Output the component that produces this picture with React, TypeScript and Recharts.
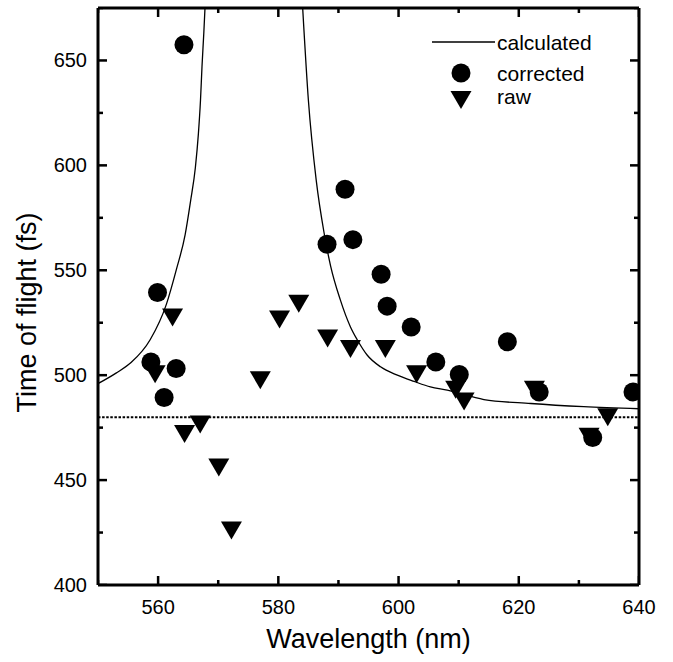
import React from "react";
import {
  ComposedChart,
  XAxis,
  YAxis,
  Line,
  Scatter,
  ReferenceLine,
  Legend,
} from "recharts";

// calculated curve (two branches around the resonance)
const calcLeftNm = [550, 553, 555.5, 558.7, 561.4, 563.1, 564.5, 565.4, 566.2, 566.7, 567.05, 567.3, 567.6, 567.8];
const calcLeftFs = [496, 501, 506, 517, 534, 551, 567, 583, 599, 615, 631, 647, 663, 675];
const calcRightNm = [584.05, 585, 586.3, 587.6, 588.7, 590.3, 592, 593.1, 594.8, 597, 599.8, 602.6, 605.3, 608.1, 614.2, 622, 630.8, 640];
const calcRightFs = [675, 631, 593, 568, 552, 536, 523, 517, 509.5, 504, 500, 497, 494.4, 492.9, 488.4, 486.5, 485, 484];

// corrected (circles)
const corrNm = [564.3, 559.9, 558.8, 563, 561, 591.1, 588.1, 592.4, 597.1, 598.1, 602.1, 606.2, 610.1, 618.1, 623.4, 632.3, 639];
const corrFs = [657.5, 539.4, 506.3, 503.2, 489.4, 588.6, 562.4, 564.6, 548.1, 532.9, 523, 506.3, 500.3, 515.9, 492, 470.3, 492];

// raw (down triangles)
const rawNm = [562.4, 559.5, 564.4, 567, 570.1, 572.2, 577, 580.2, 583.4, 588.2, 592, 597.8, 603, 609.5, 610.9, 622.6, 631.7, 634.8];
const rawFs = [527.5, 500.5, 472, 476.5, 456, 426, 497.6, 526.5, 534, 517.5, 512.5, 512.5, 500.5, 493, 487.5, 493, 470.6, 480];

const baseline = 480;
const xDomain = [550, 640];
const yDomain = [400, 675];
const xTicks = [550, 560, 570, 580, 590, 600, 610, 620, 630, 640];
const yTicks = [400, 425, 450, 475, 500, 525, 550, 575, 600, 625, 650, 675];

const pairs = (xs: number[], ys: number[]) => xs.map((x, i) => ({ x, y: ys[i] }));
const calcLeft = pairs(calcLeftNm, calcLeftFs);
const calcRight = pairs(calcRightNm, calcRightFs);
const corrected = pairs(corrNm, corrFs);
const raw = pairs(rawNm, rawFs);

// tick mark anchors on the four edges of the frame
const bottomMarks = xTicks.map((v) => ({ x: v, y: yDomain[0], major: v % 20 === 0 }));
const topMarks = xTicks.map((v) => ({ x: v, y: yDomain[1], major: v % 20 === 0 }));
const leftMarks = yTicks.map((v) => ({ x: xDomain[0], y: v, major: v % 50 === 0 }));
const rightMarks = yTicks.map((v) => ({ x: xDomain[1], y: v, major: v % 50 === 0 }));

const FONT = '"Liberation Sans", Arial, sans-serif';
const INK = "#000";
const MAJOR = 9;
const MINOR = 5;

const Dot = (p: any) => <circle cx={p.cx} cy={p.cy} r={9.5} fill={INK} />;
const DownTri = (p: any) => (
  <polygon
    points={`${p.cx - 10.5},${p.cy - 9} ${p.cx + 10.5},${p.cy - 9} ${p.cx},${p.cy + 9}`}
    fill={INK}
  />
);

const isMajor = (p: any) => (p.payload ? p.payload.major : p.major);
const markShape = (dx: number, dy: number) => (p: any) => {
  const len = isMajor(p) ? MAJOR : MINOR;
  return (
    <rect
      x={dx === 0 ? p.cx - 1.25 : dx > 0 ? p.cx : p.cx - len}
      y={dy === 0 ? p.cy - 1.25 : dy > 0 ? p.cy : p.cy - len}
      width={dx === 0 ? 2.5 : len}
      height={dy === 0 ? 2.5 : len}
      fill={INK}
    />
  );
};

const BottomTick = (p: any) => {
  const v = p.payload.value;
  if (v % 20 !== 0) return <g />;
  return (
    <text x={p.x} y={p.y + 28.5} textAnchor="middle" fontSize={20} fontFamily={FONT} fill={INK}>
      {v}
    </text>
  );
};

const LeftTick = (p: any) => {
  const v = p.payload.value;
  if (v % 50 !== 0) return <g />;
  return (
    <text x={p.x - 11} y={p.y + 7} textAnchor="end" fontSize={20} fontFamily={FONT} fill={INK}>
      {v}
    </text>
  );
};

const LegendBox = () => (
  <svg width={200} height={90} style={{ display: "block" }}>
    <line x1={7} x2={70} y1={17} y2={17} stroke={INK} strokeWidth={1.3} />
    <text x={72} y={25} fontSize={21} fontFamily={FONT}>calculated</text>
    <circle cx={36} cy={48} r={9.5} fill={INK} />
    <text x={72} y={56} fontSize={21} fontFamily={FONT}>corrected</text>
    <polygon points="25.5,66 46.5,66 36,84" fill={INK} />
    <text x={72} y={79} fontSize={21} fontFamily={FONT}>raw</text>
  </svg>
);

const axisLine = { stroke: INK, strokeWidth: 3 };

export default function App() {
  return (
    <div style={{ position: "absolute", left: 0, top: 0, width: 673, height: 662, background: "#fff" }}>
      <ComposedChart width={673} height={662} margin={{ top: 7, right: 33, bottom: 0, left: 38 }}>
        <XAxis
          xAxisId="b"
          dataKey="x"
          type="number"
          domain={xDomain}
          ticks={xTicks}
          allowDataOverflow
          orientation="bottom"
          height={77}
          tickLine={false}
          tickSize={0}
          tickMargin={0}
          axisLine={axisLine}
          tick={<BottomTick />}
          interval={0}
          label={{
            content: (props: any) => (
              <text
                x={props.viewBox.x + props.viewBox.width / 2}
                y={648}
                textAnchor="middle"
                fontSize={27}
                fontFamily={FONT}
                fill={INK}
              >
                Wavelength (nm)
              </text>
            ),
          }}
        />
        <XAxis
          xAxisId="t"
          dataKey="x"
          type="number"
          domain={xDomain}
          allowDataOverflow
          orientation="top"
          height={1}
          tickLine={false}
          tick={false}
          axisLine={axisLine}
        />
        <YAxis
          yAxisId="l"
          type="number"
          domain={yDomain}
          ticks={yTicks}
          allowDataOverflow
          orientation="left"
          width={60}
          tickLine={false}
          tickSize={0}
          tickMargin={0}
          axisLine={axisLine}
          tick={<LeftTick />}
          interval={0}
          label={{
            content: (props: any) => {
              const cy = props.viewBox.y + props.viewBox.height / 2 + 16;
              return (
                <text
                  x={27}
                  y={cy}
                  transform={`rotate(-90, 27, ${cy})`}
                  textAnchor="middle"
                  dominantBaseline="central"
                  fontSize={27}
                  fontFamily={FONT}
                  fill={INK}
                >
                  Time of flight (fs)
                </text>
              );
            },
          }}
        />
        <YAxis
          yAxisId="r"
          type="number"
          domain={yDomain}
          allowDataOverflow
          orientation="right"
          width={1}
          tickLine={false}
          tick={false}
          axisLine={axisLine}
        />
        <ReferenceLine
          xAxisId="b"
          yAxisId="l"
          y={baseline}
          stroke={INK}
          strokeWidth={2}
          strokeDasharray="2.5 1.6"
        />
        <Line
          xAxisId="b"
          yAxisId="l"
          data={calcLeft}
          dataKey="y"
          type="monotone"
          stroke={INK}
          strokeWidth={1.3}
          dot={false}
          activeDot={false}
          isAnimationActive={false}
        />
        <Line
          xAxisId="b"
          yAxisId="l"
          data={calcRight}
          dataKey="y"
          type="monotone"
          stroke={INK}
          strokeWidth={1.3}
          dot={false}
          activeDot={false}
          isAnimationActive={false}
        />
        <Scatter xAxisId="b" yAxisId="l" data={raw} dataKey="y" shape={DownTri} isAnimationActive={false} />
        <Scatter xAxisId="b" yAxisId="l" data={corrected} dataKey="y" shape={Dot} isAnimationActive={false} />
        <Scatter xAxisId="b" yAxisId="l" data={bottomMarks} dataKey="y" shape={markShape(0, -1)} legendType="none" isAnimationActive={false} />
        <Scatter xAxisId="b" yAxisId="l" data={topMarks} dataKey="y" shape={markShape(0, 1)} legendType="none" isAnimationActive={false} />
        <Scatter xAxisId="b" yAxisId="l" data={leftMarks} dataKey="y" shape={markShape(1, 0)} legendType="none" isAnimationActive={false} />
        <Scatter xAxisId="b" yAxisId="l" data={rightMarks} dataKey="y" shape={markShape(-1, 0)} legendType="none" isAnimationActive={false} />
        <Legend
          layout="vertical"
          align="center"
          verticalAlign="middle"
          content={() => <LegendBox />}
          wrapperStyle={{ top: 25, left: 425, width: 200, height: 90 }}
        />
      </ComposedChart>
    </div>
  );
}
